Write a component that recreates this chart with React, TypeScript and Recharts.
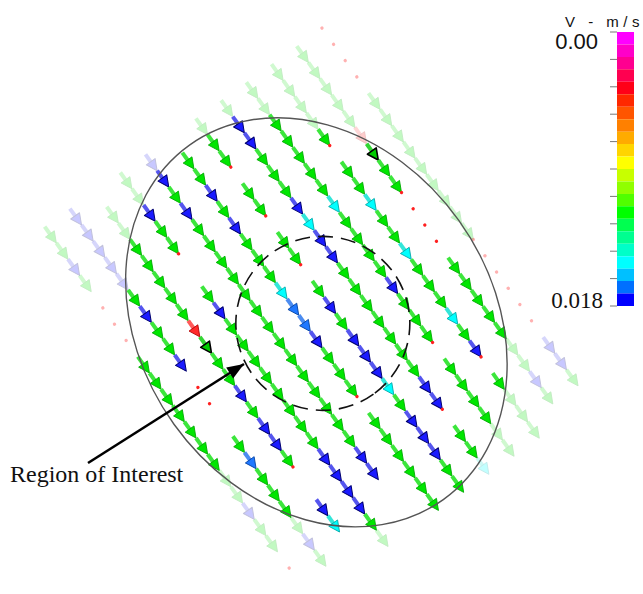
import {
  ScatterChart,
  Scatter,
  XAxis,
  YAxis,
  BarChart,
  Bar,
} from "recharts";

// cross-stream index of each streamline (top-right to bottom-left)
const LINE_IDS = [4, 3, 2, 1, 0, -1, -2, -3, -4, -5, -6, -7];

// one char per grid step along the flow:
// g green, b blue, a azure, c cyan, r red, k dark-edged, . zero vector, _ nothing
const LINE_CODES = [
  "....ggggggggg......bbg__",
  "gggggrkgg....gggggggbg__",
  "ggggg.ggcggcgggcgb.gggg_",
  "gggggggcggggbggg.gggggg_",
  "gbbgggbcbbgggggggbb.ggc_",
  "ggg.gg.gg.gbgbbbcgbbbgg_",
  "_ggbgbgggcaabggg.gggggg_",
  "bbgbggggggggggggggbb____",
  "ggbgg._gbggggggggbbbbgg_",
  "_gggggggrkggbgbbg._bc___",
  "bbbbbgbggb_.._gaggggbg__",
  "ggbg_...gggggggggbgg_.__",
];

// measured region (grid units: s along flow, k across)
const ELLIPSE = { s: 11.8, k: -1.67, rs: 10.9, rk: 5.65 };
const ROI = { s: 12.03, k: -1.52, r: 4.35 };

// colour bar, 0.00 (top) to 0.018 m/s (bottom)
const CBAR_MAX = 0.018;
const CBAR_TICKS = [0, 0.0018, 0.0036, 0.0054, 0.0072, 0.009, 0.0108, 0.0126, 0.0144, 0.0162, 0.018];
const BAND_COLORS = [
  "#ff00ff", "#ff00c8", "#ff0090", "#ff0050", "#ff0018", "#ff2800",
  "#ff5500", "#ff8000", "#ffab00", "#ffd500", "#ffff00", "#c8ff00",
  "#90ff00", "#50ff00", "#00ff00", "#00ff50", "#00ff90", "#00ffc8",
  "#00ffff", "#00c0ff", "#0070ff", "#0000ff",
];

// annotation
const POINTER = [
  { x: 88, y: 463 },
  { x: 244, y: 364 },
];
const LABELS = [
  { x: 10, y: 482, text: "Region of Interest", font: "Liberation Serif, Times New Roman, serif", size: 24, spacing: 0, weight: 400 },
  { x: 565, y: 27, text: "V - m/s", font: "Liberation Sans, Arial, sans-serif", size: 15, spacing: 4.5, weight: 500 },
];

const S_DOMAIN = [-2, 26];
const K_DOMAIN = [-9, 6];
const SLOT_PX = 20;
const LINE_PX = 31;
const FLOW_W = SLOT_PX * (S_DOMAIN[1] - S_DOMAIN[0]);
const FLOW_H = LINE_PX * (K_DOMAIN[1] - K_DOMAIN[0]);

const STYLE: Record<string, { shaft: string; head: string; edge: string; ew: number }> = {
  g: { shaft: "#3ce63c", head: "#00e600", edge: "#00a800", ew: 0.8 },
  b: { shaft: "#5555ee", head: "#1a1aff", edge: "#00006e", ew: 1 },
  a: { shaft: "#4c8cf0", head: "#1f78ff", edge: "#0040a0", ew: 0.8 },
  c: { shaft: "#33e6d9", head: "#00ffff", edge: "#00a6a6", ew: 0.8 },
  r: { shaft: "#ff5a5a", head: "#ff2a2a", edge: "#b00000", ew: 0.8 },
  k: { shaft: "#33d633", head: "#00cc00", edge: "#000000", ew: 1.6 },
};

function isInside(s: number, k: number) {
  const a = (s - ELLIPSE.s) / ELLIPSE.rs;
  const b = (k - ELLIPSE.k) / ELLIPSE.rk;
  return a * a + b * b < 1;
}

const vectors = LINE_IDS.flatMap((k, li) =>
  LINE_CODES[li].split("").map((code, i) => ({
    s: i + 0.5,
    k,
    code,
    inside: isInside(i + 0.5, k),
  }))
).filter((d) => d.code !== "_");

function VectorShape(props: any) {
  const { cx, cy, payload } = props;
  const half = SLOT_PX / 2;
  if (payload.code === ".") {
    return (
      <circle cx={cx - half} cy={cy} r={1.7} fill="#ff2020" opacity={payload.inside ? 1 : 0.35} />
    );
  }
  const st = STYLE[payload.code];
  return (
    <g opacity={payload.inside ? 1 : 0.24}>
      <line x1={cx - half} y1={cy} x2={cx} y2={cy} stroke={st.shaft} strokeWidth={4} />
      <polygon
        points={`${cx + half},${cy} ${cx - 1},${cy - 5.4} ${cx - 1},${cy + 5.4}`}
        fill={st.head}
        stroke={st.edge}
        strokeWidth={st.ew}
        strokeLinejoin="round"
      />
    </g>
  );
}

function EllipseShape(props: any) {
  return (
    <ellipse
      cx={props.cx}
      cy={props.cy}
      rx={ELLIPSE.rs * SLOT_PX}
      ry={ELLIPSE.rk * LINE_PX}
      fill="none"
      stroke="#555"
      strokeWidth={1.4}
    />
  );
}

function RoiShape(props: any) {
  return (
    <circle
      cx={props.cx}
      cy={props.cy}
      r={ROI.r * SLOT_PX}
      fill="none"
      stroke="#111"
      strokeWidth={1.6}
      strokeDasharray="15 8"
    />
  );
}

function CbarTick(props: any) {
  const { x, y, payload } = props;
  if (payload.value === 0) {
    return (
      <text x={x - 10} y={y + 17} textAnchor="end" fontFamily="Liberation Sans, Arial, sans-serif" fontSize={22} fill="#111">
        {payload.value.toFixed(2)}
      </text>
    );
  }
  if (payload.value === CBAR_MAX) {
    return (
      <text x={x - 5} y={y + 2} textAnchor="end" fontFamily="Liberation Serif, Times New Roman, serif" fontSize={23} fill="#111">
        {String(payload.value)}
      </text>
    );
  }
  return null;
}

function PointerHead(props: any) {
  const { cx, cy, index } = props;
  if (index !== POINTER.length - 1) return <g />;
  const ang = Math.atan2(POINTER[1].y - POINTER[0].y, POINTER[1].x - POINTER[0].x);
  const ux = Math.cos(ang);
  const uy = Math.sin(ang);
  const bx = cx - ux * 17;
  const by = cy - uy * 17;
  return (
    <polygon
      points={`${cx},${cy} ${bx - uy * 6.5},${by + ux * 6.5} ${bx + uy * 6.5},${by - ux * 6.5}`}
      fill="#000"
    />
  );
}

function LabelShape(props: any) {
  const { cx, cy, payload } = props;
  return (
    <text
      x={cx}
      y={cy}
      fontFamily={payload.font}
      fontSize={payload.size}
      fontWeight={payload.weight}
      letterSpacing={payload.spacing}
      fill="#111"
    >
      {payload.text}
    </text>
  );
}

export default function App() {
  const cbarRow: Record<string, any> = { name: "V" };
  BAND_COLORS.forEach((_, i) => {
    cbarRow[`band${i}`] = CBAR_MAX / BAND_COLORS.length;
  });

  return (
    <div
      style={{
        position: "fixed",
        left: 0,
        top: 0,
        width: 643,
        height: 594,
        overflow: "hidden",
        background: "#fff",
      }}
    >
      <div
        style={{
          position: "absolute",
          left: 43.4,
          top: 89.5,
          width: FLOW_W,
          height: FLOW_H,
          transform: "rotate(54.4deg)",
        }}
      >
        <ScatterChart width={FLOW_W} height={FLOW_H} margin={{ top: 0, right: 0, bottom: 0, left: 0 }}>
          <XAxis type="number" dataKey="s" domain={S_DOMAIN} hide />
          <YAxis type="number" dataKey="k" domain={K_DOMAIN} hide />
          <Scatter data={vectors} shape={VectorShape} isAnimationActive={false} />
          <Scatter data={[ELLIPSE]} shape={EllipseShape} isAnimationActive={false} />
          <Scatter data={[ROI]} shape={RoiShape} isAnimationActive={false} />
        </ScatterChart>
      </div>

      <div style={{ position: "absolute", left: 547, top: 20 }}>
        <BarChart
          width={87}
          height={298}
          data={[cbarRow]}
          margin={{ top: 12, right: 0, bottom: 12, left: 0 }}
          barCategoryGap={0}
        >
          <XAxis dataKey="name" hide />
          <YAxis
            type="number"
            domain={[0, CBAR_MAX]}
            reversed
            allowDataOverflow
            ticks={CBAR_TICKS}
            interval={0}
            width={70}
            tickSize={7}
            axisLine={false}
            tickLine={{ stroke: "#777" }}
            tick={CbarTick}
          />
          {BAND_COLORS.map((c, i) => (
            <Bar key={c} dataKey={`band${i}`} stackId="cb" fill={c} isAnimationActive={false} />
          ))}
        </BarChart>
      </div>

      <div style={{ position: "absolute", left: 0, top: 0, pointerEvents: "none" }}>
        <ScatterChart width={643} height={594} margin={{ top: 0, right: 0, bottom: 0, left: 0 }}>
          <XAxis type="number" dataKey="x" domain={[0, 643]} hide />
          <YAxis type="number" dataKey="y" domain={[0, 594]} reversed hide />
          <Scatter
            data={POINTER}
            line={{ stroke: "#000", strokeWidth: 2.6 }}
            shape={PointerHead}
            isAnimationActive={false}
          />
          <Scatter data={LABELS} shape={LabelShape} isAnimationActive={false} />
        </ScatterChart>
      </div>
    </div>
  );
}
